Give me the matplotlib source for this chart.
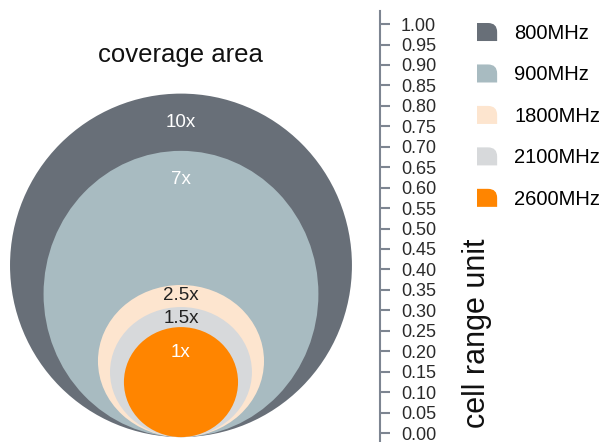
import matplotlib.pyplot as plt
from matplotlib.patches import Ellipse, Patch, PathPatch
from matplotlib.path import Path
from matplotlib.legend_handler import HandlerPatch

plt.rcParams['font.family'] = ['Liberation Sans', 'DejaVu Sans']

# bands, largest first (drawn back to front)
bands = ['800MHz', '900MHz', '1800MHz', '2100MHz', '2600MHz']
colors = ['#686f78', '#a8bbc1', '#fde5cf', '#d7d9db', '#ff8500']
# size of each coverage circle in cell range units (width, height)
widths = [0.836, 0.672, 0.406, 0.347, 0.279]
heights = [0.840, 0.700, 0.372, 0.318, 0.269]
area_labels = ['10x', '7x', '2.5x', '1.5x', '1x']
label_y = [0.76, 0.62, 0.337, 0.28, 0.198]
label_colors = ['white', 'white', '#222222', '#222222', 'white']

base = -0.01


def corner_patch(legend, orig_handle, xdescent, ydescent, width, height, fontsize):
    # square with the top right corner rounded
    x0, y0 = -xdescent, -ydescent
    r = 0.45 * width
    verts = [(x0, y0), (x0 + width, y0), (x0 + width, y0 + height - r),
             (x0 + width, y0 + height), (x0 + width - r, y0 + height),
             (x0, y0 + height), (x0, y0)]
    codes = [Path.MOVETO, Path.LINETO, Path.LINETO, Path.CURVE3, Path.CURVE3,
             Path.LINETO, Path.CLOSEPOLY]
    return PathPatch(Path(verts, codes))


fig = plt.figure(figsize=(6.03, 4.42), dpi=100)
ax = fig.add_axes([0, 0, 380 / 603, 431 / 442])

for w, h, c in zip(widths, heights, colors):
    ax.add_patch(Ellipse((0, base + h / 2), w, h, facecolor=c, edgecolor='none'))

for t, y, c in zip(area_labels, label_y, label_colors):
    ax.text(0, y, t, ha='center', va='center', fontsize=13.5, color=c)

ax.set_xlim(-0.4425, 0.4866)
ax.set_ylim(-0.022, 1.032)

# y scale on the right
for s in ['left', 'top', 'bottom']:
    ax.spines[s].set_visible(False)
ax.spines['right'].set_color('#7d8591')
ax.spines['right'].set_linewidth(1.5)
ax.yaxis.tick_right()
ax.set_yticks([i * 0.05 for i in range(21)])
ax.set_yticklabels(['%.2f' % (i * 0.05) for i in range(21)])
ax.tick_params(axis='y', direction='out', length=7, width=1.5, color='#7d8591',
               pad=8, labelsize=13, labelcolor='#2a2a2a')
ax.set_xticks([])

fig.text(180 / 603, 1 - 55 / 442, 'coverage area', ha='center', va='center',
         fontsize=18.5, color='#111111')
fig.text(477 / 603, 1 - 333 / 442, 'cell range unit', ha='center', va='center',
         rotation=90, fontsize=22, color='#111111')

handles = [Patch(facecolor=c, edgecolor='none') for c in colors]
fig.legend(handles, bands, loc='upper left', bbox_to_anchor=(477 / 603, 1 - 23 / 442),
           frameon=False, fontsize=14.5, handlelength=1.0, handleheight=1.0,
           handletextpad=0.85, labelspacing=1.07, borderpad=0, borderaxespad=0,
           handler_map={Patch: HandlerPatch(patch_func=corner_patch)})

fig.savefig('out.png', dpi=100)
